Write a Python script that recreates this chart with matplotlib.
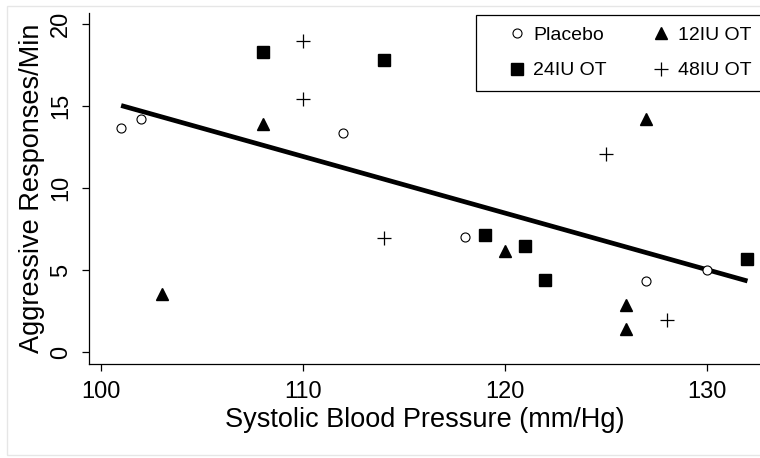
import numpy as np
import matplotlib.pyplot as plt
from matplotlib.patches import Rectangle

plt.rcParams['font.family'] = ['Liberation Sans', 'DejaVu Sans']

# values
placebo_x = [101, 102, 112, 118, 127, 130]
placebo_y = [13.7, 14.25, 13.4, 7.05, 4.35, 5.05]

iu12_x = [103, 108, 120, 126, 126, 127]
iu12_y = [3.55, 13.95, 6.15, 2.9, 1.45, 14.25]

iu24_x = [108, 114, 119, 121, 122, 132]
iu24_y = [18.3, 17.8, 7.15, 6.5, 4.4, 5.7]

iu48_x = [110, 110, 114, 125, 128]
iu48_y = [19.0, 15.45, 7.0, 12.1, 2.0]

fit_x = [101, 132]
fit_y = [15.05, 4.35]

x_ticks = [100, 110, 120, 130]
y_ticks = [0, 5, 10, 15, 20]

fig = plt.figure(figsize=(7.6, 4.58), dpi=100)
ax = fig.add_axes([89 / 760, 94 / 458, 671 / 760, 351 / 458])

fig.patches.append(Rectangle((7 / 760, 3 / 458), 760 / 760, 449 / 458,
                             transform=fig.transFigure, fill=False,
                             edgecolor='#e6e6e6', linewidth=1.0))

ax.plot(fit_x, fit_y, color='black', linewidth=3.4, solid_capstyle='butt', zorder=2)

h1, = ax.plot(placebo_x, placebo_y, linestyle='none', marker='o', markersize=6.5,
              markerfacecolor='white', markeredgecolor='black', markeredgewidth=0.8,
              label='Placebo', zorder=3)
h2, = ax.plot(iu12_x, iu12_y, linestyle='none', marker='^', markersize=9,
              color='black', label='12IU OT', zorder=3)
h3, = ax.plot(iu24_x, iu24_y, linestyle='none', marker='s', markersize=8.5,
              color='black', label='24IU OT', zorder=3)
h4, = ax.plot(iu48_x, iu48_y, linestyle='none', marker='+', markersize=10,
              markeredgewidth=0.9, color='black', label='48IU OT', zorder=3)

ax.set_xlim(99.41, 132.62)
ax.set_ylim(-0.71, 20.69)
ax.set_xticks(x_ticks)
ax.set_yticks(y_ticks)
ax.tick_params(direction='out', length=5, width=0.9, labelsize=17, pad=7)
for lab in ax.get_yticklabels():
    lab.set_rotation(90)
    lab.set_va('center')

for side in ['top', 'right']:
    ax.spines[side].set_visible(False)
for side in ['left', 'bottom']:
    ax.spines[side].set_linewidth(0.9)

ax.set_xlabel('Systolic Blood Pressure (mm/Hg)', fontsize=19.5, labelpad=3)
ax.set_ylabel('Aggressive Responses/Min', fontsize=19.5, labelpad=4)

leg = ax.legend(handles=[h1, h3, h2, h4], ncol=2, loc='upper left',
                bbox_to_anchor=(476 / 760, 443 / 458), bbox_transform=fig.transFigure,
                fontsize=14, frameon=True, fancybox=False, edgecolor='black',
                framealpha=1, handlelength=3.0, handletextpad=-0.65,
                columnspacing=1.3, borderpad=0.6, labelspacing=0.9,
                borderaxespad=0)
leg.get_frame().set_linewidth(0.9)

fig.savefig('out.png', dpi=100)
